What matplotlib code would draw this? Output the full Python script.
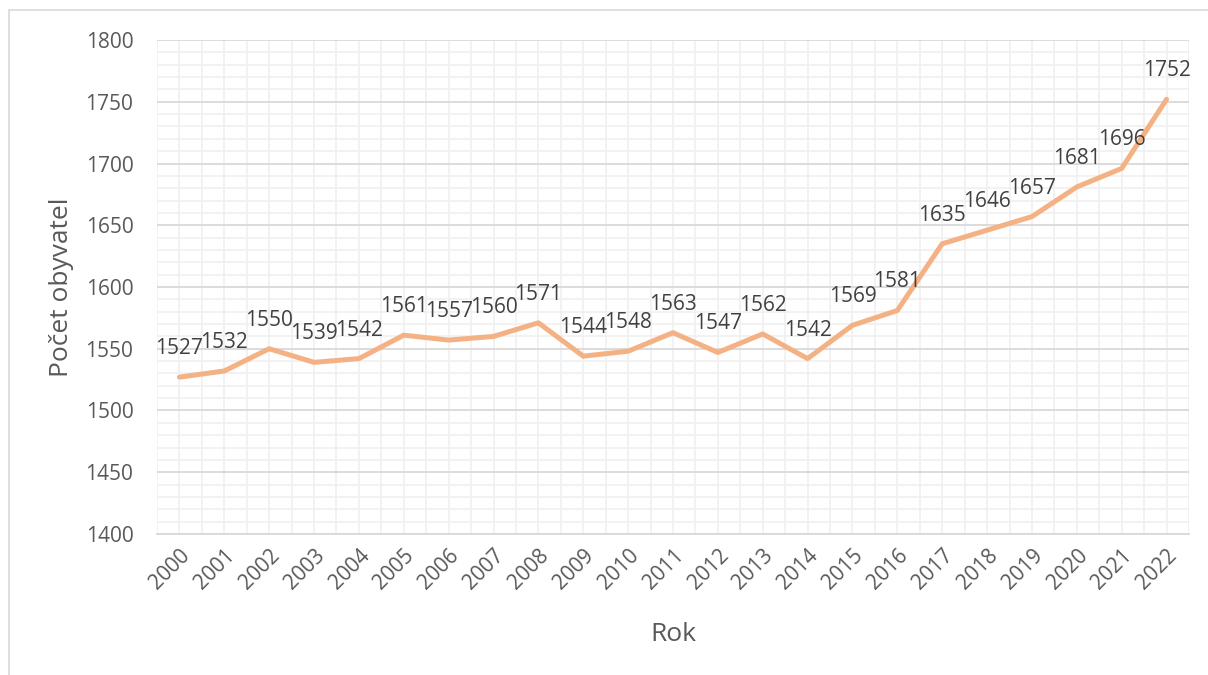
import matplotlib.pyplot as plt
from matplotlib.patches import Rectangle
import numpy as np

plt.rcParams['font.family'] = ['Open Sans', 'DejaVu Sans']

years = [str(y) for y in range(2000, 2023)]
obyvatele = [1527, 1532, 1550, 1539, 1542, 1561, 1557, 1560, 1571, 1544, 1548, 1563,
             1547, 1562, 1542, 1569, 1581, 1635, 1646, 1657, 1681, 1696, 1752]

W, H = 1208, 675
fig = plt.figure(figsize=(W / 100, H / 100), dpi=100)
ax = fig.add_axes([157 / W, 1 - 534 / H, (1189 - 157) / W, (534 - 40) / H])

# frame around the whole chart (Excel chart area)
fig.patches.append(Rectangle((8.5 / W, -0.1), 1.2, 1.1 - 10.5 / H, transform=fig.transFigure,
                             fill=False, edgecolor='#d9d9d9', linewidth=1.2, zorder=0))

x = np.arange(len(years))
ax.plot(x, obyvatele, color='#f4b183', linewidth=3.6, solid_capstyle='round', zorder=3)

for xi, v in zip(x, obyvatele):
    ax.annotate(str(v), (xi, v), xytext=(0, 13), textcoords='offset points',
                ha='center', va='bottom', fontsize=15, color='#404040', zorder=4)

ax.set_xlim(-0.5, len(years) - 0.5)
ax.set_ylim(1400, 1800)
ax.set_xticks(x)
ax.set_xticklabels(years, rotation=45, ha='right', rotation_mode='anchor')
ax.set_xticks(np.arange(-0.5, len(years), 1), minor=True)
ax.set_yticks(np.arange(1400, 1801, 50))
ax.set_yticks(np.arange(1400, 1801, 10), minor=True)

ax.grid(which='major', axis='y', color='#d9d9d9', linewidth=1.3)
ax.grid(which='minor', axis='y', color='#f0f0f0', linewidth=1.2)
ax.grid(which='both', axis='x', color='#f0f0f0', linewidth=1.2)
ax.set_axisbelow(True)

ax.tick_params(axis='both', which='both', length=0, labelsize=15, colors='#595959')
ax.tick_params(axis='y', pad=17)
ax.tick_params(axis='x', pad=8)
for s in ['top', 'right', 'left']:
    ax.spines[s].set_visible(False)
ax.spines['bottom'].set_color('#d9d9d9')
ax.spines['bottom'].set_linewidth(1.3)

ax.set_xlabel('Rok', fontsize=19, color='#595959', labelpad=20)
ax.set_ylabel('Počet obyvatel', fontsize=19, color='#595959', labelpad=8)

fig.savefig('out.png', dpi=100)
